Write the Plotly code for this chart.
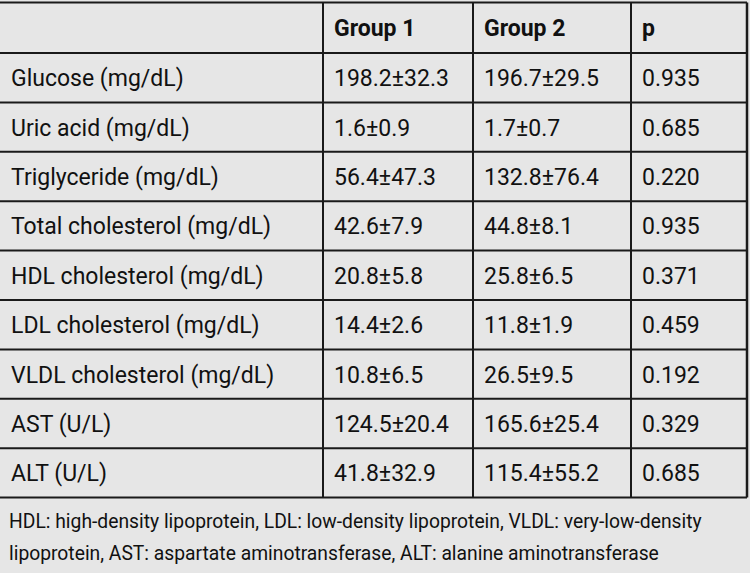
import plotly.graph_objects as go

header = ["", "Group 1", "Group 2", "p"]
variables = ["Glucose (mg/dL)", "Uric acid (mg/dL)", "Triglyceride (mg/dL)",
             "Total cholesterol (mg/dL)", "HDL cholesterol (mg/dL)",
             "LDL cholesterol (mg/dL)", "VLDL cholesterol (mg/dL)",
             "AST (U/L)", "ALT (U/L)"]
group1 = ["198.2±32.3", "1.6±0.9", "56.4±47.3", "42.6±7.9", "20.8±5.8",
          "14.4±2.6", "10.8±6.5", "124.5±20.4", "41.8±32.9"]
group2 = ["196.7±29.5", "1.7±0.7", "132.8±76.4", "44.8±8.1", "25.8±6.5",
          "11.8±1.9", "26.5±9.5", "165.6±25.4", "115.4±55.2"]
p_values = ["0.935", "0.685", "0.220", "0.935", "0.371", "0.459", "0.192",
            "0.329", "0.685"]
footnote_lines = [
    "HDL: high-density lipoprotein, LDL: low-density lipoprotein, VLDL: very-low-density",
    "lipoprotein, AST: aspartate aminotransferase, ALT: alanine aminotransferase",
]

# layout constants
W, H = 750, 573
COL_WIDTHS = [323, 150, 158, 116]
TOP = 2.5
HEADER_H = 50.5
ROW_H = 49.4
PAD = 9
FONT = "Roboto, Liberation Sans, sans-serif"
BG = "#e6e6e6"
LINE = "#1a1a1a"
TXT = "#111111"

columns = [variables, group1, group2, p_values]
col_edges = [0]
for w in COL_WIDTHS:
    col_edges.append(col_edges[-1] + w)
n_rows = len(variables)
row_edges = [TOP, TOP + HEADER_H]
for _ in range(n_rows):
    row_edges.append(row_edges[-1] + ROW_H)
table_right = col_edges[-1]
table_bottom = row_edges[-1]

fig = go.Figure()
# invisible trace to establish the axes
fig.add_trace(go.Scatter(x=[0, W], y=[0, H], mode="markers",
                         marker=dict(opacity=0), hoverinfo="skip", showlegend=False))

# horizontal rules
for y in row_edges:
    fig.add_shape(type="line", x0=0, x1=table_right, y0=y, y1=y,
                  line=dict(color=LINE, width=2), layer="above")
# vertical rules
for x in col_edges[1:]:
    fig.add_shape(type="line", x0=x, x1=x, y0=row_edges[0], y1=table_bottom,
                  line=dict(color=LINE, width=2.5 if x == table_right else 2),
                  layer="above")

# header texts
hy = (row_edges[0] + row_edges[1]) / 2 + 0.5
for j, h in enumerate(header):
    if h:
        fig.add_annotation(text="<b>%s</b>" % h, x=col_edges[j] + PAD, y=hy,
                           xref="x", yref="y", xanchor="left", yanchor="middle",
                           showarrow=False, font=dict(family=FONT, size=23, color=TXT))
# body texts
for j, col in enumerate(columns):
    for i, val in enumerate(col):
        cy = (row_edges[i + 1] + row_edges[i + 2]) / 2 + 1
        fig.add_annotation(text=val, x=col_edges[j] + PAD, y=cy,
                           xref="x", yref="y", xanchor="left", yanchor="middle",
                           showarrow=False, font=dict(family=FONT, size=23, color=TXT))

# footnote
for i, line in enumerate(footnote_lines):
    fig.add_annotation(text=line, x=7, y=table_bottom + 23.5 + 32 * i,
                       xref="x", yref="y", xanchor="left", yanchor="middle",
                       showarrow=False, font=dict(family=FONT, size=19.3, color=TXT))

fig.update_xaxes(range=[0, W], visible=False, fixedrange=True)
fig.update_yaxes(range=[H, 0], visible=False, fixedrange=True)
fig.update_layout(
    width=W, height=H, margin=dict(l=0, r=0, t=0, b=0),
    paper_bgcolor=BG, plot_bgcolor=BG, showlegend=False,
)

fig.write_html(
    "out.html",
    config={"displayModeBar": False},
    post_script="document.body.style.margin='0';document.body.style.background='%s';" % BG,
)
